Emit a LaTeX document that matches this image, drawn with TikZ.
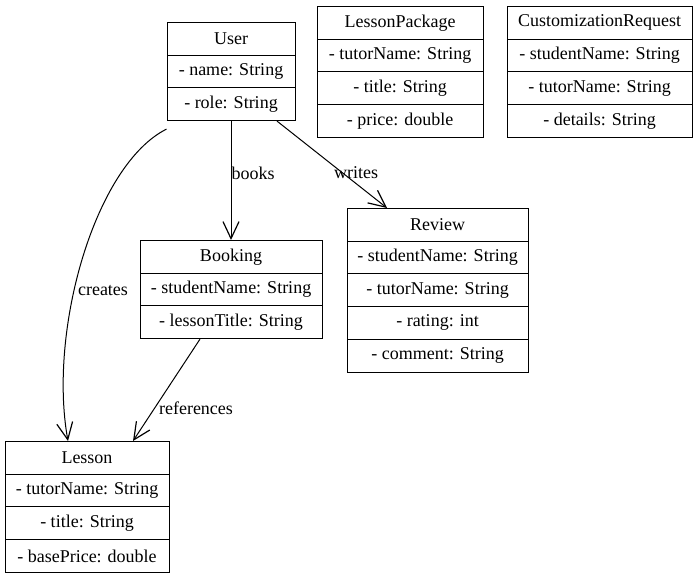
\documentclass[tikz,border=0pt]{standalone}
\usepackage{fontspec}
\setmainfont{Liberation Serif}
\usetikzlibrary{arrows.meta}
\begin{document}
\begin{tikzpicture}[x=1pt,y=-1pt,
  row/.style={draw, line width=1pt, minimum width=#1, minimum height=32.7pt, inner sep=0pt, anchor=north, font=\fontsize{18pt}{20pt}\selectfont},
  edge/.style={draw, line width=1pt, -{Straight Barb[length=17pt,width=16pt,line width=1.2pt]}},
  lbl/.style={font=\fontsize{18pt}{20pt}\selectfont, inner sep=0pt}]
\useasboundingbox (0,0) rectangle (698,579);
% User
\node[row=128pt] (user-t) at (231,22) {User};
\node[row=128pt] (user-1) at (231,54.7) {- name: String};
\node[row=128pt] (user-2) at (231,87.4) {- role: String};
% LessonPackage
\node[row=166pt] (lp-t) at (400,6) {LessonPackage};
\node[row=166pt] (lp-1) at (400,38.7) {- tutorName: String};
\node[row=166pt] (lp-2) at (400,71.4) {- title: String};
\node[row=166pt] (lp-3) at (400,104.1) {- price: double};
% CustomizationRequest
\node[row=185pt] (cr-t) at (599.5,6) {CustomizationRequest};
\node[row=185pt] (cr-1) at (599.5,38.7) {- studentName: String};
\node[row=185pt] (cr-2) at (599.5,71.4) {- tutorName: String};
\node[row=185pt] (cr-3) at (599.5,104.1) {- details: String};
% Review
\node[row=181pt] (rv-t) at (437.5,208) {Review};
\node[row=181pt] (rv-1) at (437.5,240.7) {- studentName: String};
\node[row=181pt] (rv-2) at (437.5,273.4) {- tutorName: String};
\node[row=181pt] (rv-3) at (437.5,306.1) {- rating: int};
\node[row=181pt] (rv-4) at (437.5,338.8) {- comment: String};
% Booking
\node[row=182pt] (bk-t) at (231,240) {Booking};
\node[row=182pt] (bk-1) at (231,272.7) {- studentName: String};
\node[row=182pt] (bk-2) at (231,305.4) {- lessonTitle: String};
% Lesson
\node[row=164pt] (ls-t) at (87,441) {Lesson};
\node[row=164pt] (ls-1) at (87,473.7) {- tutorName: String};
\node[row=164pt] (ls-2) at (87,506.4) {- title: String};
\node[row=164pt] (ls-3) at (87,539.1) {- basePrice: double};
% edges
\draw[edge] (user-2.south) -- (bk-t.north);
\draw[edge] ([xshift=46pt]user-2.south) -- ([xshift=-50.5pt]rv-t.north);
\draw[edge] ([yshift=-8pt]user-2.south west) .. controls (95,165) and (48,330) .. ([xshift=-19pt]ls-t.north);
\draw[edge] ([xshift=-31pt]bk-2.south) -- ([xshift=46pt]ls-t.north);
% labels
\node[lbl] (l-books) at (253,173) {books};
\node[lbl] (l-writes) at (356,173) {writes};
\node[lbl] (l-creates) at (103,291) {creates};
\node[lbl] (l-refs) at (196,408) {references};
\end{tikzpicture}
\end{document}
